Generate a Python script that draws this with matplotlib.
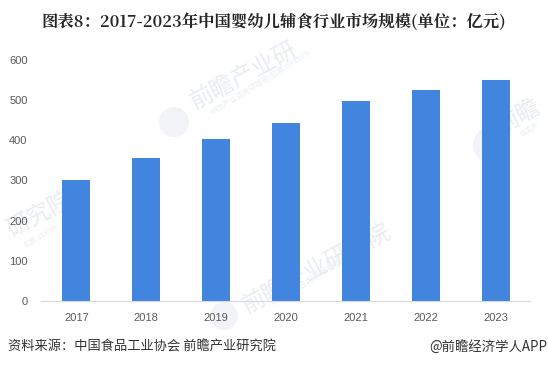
import matplotlib
matplotlib.use('Agg')
import matplotlib.pyplot as plt
from matplotlib.patches import Circle
from matplotlib.transforms import IdentityTransform

years = ['2017', '2018', '2019', '2020', '2021', '2022', '2023']
market_size = [301, 356, 403, 443, 498, 525, 550]
y_ticks = [0, 100, 200, 300, 400, 500, 600]

title = '图表8\uff1a2017-2023年中国婴幼儿辅食行业市场规模(单位\uff1a亿元)'
source = '资料来源\uff1a中国食品工业协会 前瞻产业研究院'
credit = '@前瞻经济学人APP'
mark_tag = '中国产业咨询领导者(股票:839599)'

plt.rcParams['font.family'] = ['Noto Sans CJK SC', 'DejaVu Sans']

W, H = 548, 368
fig = plt.figure(figsize=(W / 100, H / 100), dpi=100)
ax = fig.add_axes([41.5 / W, 1 - 301 / H, 489 / W, 241 / H])
ax.set_zorder(1)
ax.patch.set_visible(False)

# faint watermarks behind the axes, cut to the parts that show
for text, x, y in [('前瞻产业研', 244, 76), ('前瞻产业研究院', 317, 268),
                   ('研究院', 39, 215), ('前瞻', 519, 116)]:
    fig.text(x / W, 1 - y / H, text, fontsize=17, color='#e9ecf1', rotation=28,
             ha='center', va='center', zorder=0)
for text, x, y, size in [(mark_tag, 261, 83, 5.5), (mark_tag, 325, 270, 6),
                         ('股票:839599', 42, 236, 5), ('中国产', 530, 130, 5)]:
    fig.text(x / W, 1 - y / H, text, fontsize=size, color='#eceff3', rotation=32,
             ha='center', va='center', zorder=0)
for x, y, r in [(174, 122, 15), (224, 316, 14), (491, 145, 18)]:
    fig.add_artist(Circle((x, H - y), r, color='#f2f3f6', lw=0, zorder=0,
                          transform=IdentityTransform()))

ax.bar(years, market_size, width=0.4, color='#4285de', zorder=2)
ax.set_xlim(-0.5, 6.5)
ax.set_ylim(0, 600)
ax.set_yticks(y_ticks)

for side in ['top', 'right', 'left']:
    ax.spines[side].set_visible(False)
ax.spines['bottom'].set_color('#d9d9d9')
ax.tick_params(length=0)
ax.tick_params(axis='x', pad=8.5, labelsize=8, labelcolor='#595959')
ax.tick_params(axis='y', pad=10, labelsize=8, labelcolor='#595959')
for lab in ax.get_xticklabels() + ax.get_yticklabels():
    lab.set_fontfamily('Liberation Sans')

fig.text(274 / W, 1 - 22 / H, title, fontsize=11.75, weight='bold', color='#262626',
         ha='center', va='center',
         family=['Noto Serif CJK SC', 'Noto Sans CJK SC', 'Liberation Serif'])
fig.text(8 / W, 1 - 347 / H, source, fontsize=9.5, color='#333333', ha='left', va='center')
fig.text(547 / W, 1 - 347 / H, credit, fontsize=9.6, color='#333333', ha='right', va='center')

fig.savefig('out.png', dpi=100)
